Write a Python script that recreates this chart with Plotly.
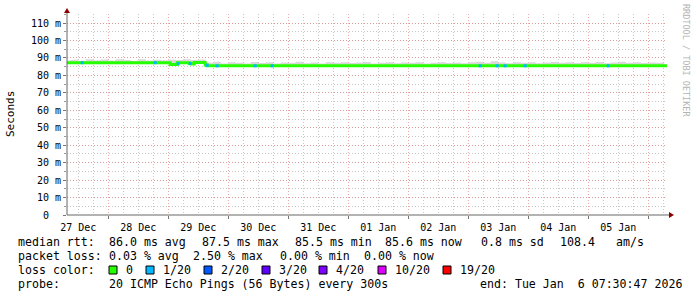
import plotly.graph_objects as go
import pandas as pd

# ---------------- data ----------------
x_start = "2025-12-27 07:30:47"
x_end = "2026-01-06 07:30:47"

# median rtt (ms) as step series: change times and values
med_times = ["2025-12-27 07:30", "2025-12-29 00:48", "2025-12-29 03:36", "2025-12-29 08:24",
             "2025-12-29 09:12", "2025-12-29 10:24", "2025-12-29 14:48", "2025-12-29 15:36",
             "2026-01-06 07:30"]
med_values = [87.3, 86.3, 87.3, 86.8, 86.5, 87.4, 86.0, 85.5, 85.5]

# smoke (upper edge of ping spread, ms) every 3 hours from 27 Dec 06:00
smoke_times = [t.strftime("%Y-%m-%d %H:%M")
               for t in pd.date_range("2025-12-27 06:00", "2026-01-06 06:00", freq="3h")]
smoke_values = [88.6, 89.0, 88.4, 89.2, 88.7, 89.1,
                88.5, 89.2, 88.8, 88.4, 89.3, 88.6, 89.0, 88.7,
                89.0, 88.9, 89.3, 88.8, 89.1, 87.3, 87.8, 86.9,
                87.6, 87.2, 86.9, 87.7, 87.1, 87.5, 86.8, 87.4,
                87.3, 87.8, 87.0, 87.4, 86.9, 87.6, 87.2, 87.5,
                87.1, 87.4, 87.7, 86.9, 87.3, 87.6, 87.0, 87.4,
                87.2, 87.5, 86.9, 87.3, 87.6, 87.1, 87.4, 87.0,
                87.5, 87.8, 87.3, 88.1, 87.4, 87.0, 87.6, 87.2,
                87.6, 87.0, 87.4, 87.7, 87.2, 87.5, 87.1, 87.6,
                87.3, 87.7, 87.0, 87.4, 87.8, 87.2, 87.5, 87.1,
                87.4, 87.2, 87.2]

# samples with 1/20 packet loss
loss1_times = ["2025-12-27 13:36", "2025-12-28 18:48", "2025-12-29 04:00", "2025-12-29 08:48",
               "2025-12-29 15:36", "2025-12-29 19:36", "2025-12-30 10:48", "2025-12-30 17:36",
               "2026-01-03 04:48", "2026-01-03 11:36", "2026-01-03 14:48", "2026-01-03 22:48",
               "2026-01-05 08:00"]
loss1_values = [87.3, 87.3, 86.8, 86.8, 85.8, 85.5, 85.5, 85.5,
                85.5, 85.5, 85.5, 85.5, 85.5]

y_tickvals = [0, 10, 20, 30, 40, 50, 60, 70, 80, 90, 100, 110]
y_ticktext = ["0\u00a0\u00a0", "10 m", "20 m", "30 m", "40 m", "50 m", "60 m", "70 m",
              "80 m", "90 m", "100 m", "110 m"]

loss_labels = ["0", "1/20", "2/20", "3/20", "4/20", "10/20", "19/20"]
loss_colors = ["#26ff00", "#00b8ff", "#0059ff", "#5e00ff", "#7e00ff", "#dd00ff", "#ff0000"]

# ---------------- layout geometry (pixels) ----------------
FW, FH = 697, 297
L, T, W, H = 67, 14, 600, 201
R = FW - L - W
B = FH - T - H
Y_MAX = 115.2


def px(x):
    return (x - L) / W


def py(y):
    return (T + H - y) / H


MONO = "DejaVu Sans Mono"

fig = go.Figure()

# smoke: lower edge (median) then upper filled to it
fig.add_trace(go.Scatter(x=med_times, y=med_values, mode="lines", line=dict(width=0, shape="hv"),
                         hoverinfo="skip", showlegend=False))
fig.add_trace(go.Scatter(x=smoke_times, y=smoke_values, mode="lines",
                         line=dict(width=0, shape="hv"), fill="tonexty",
                         fillcolor="#d8d8d8", hoverinfo="skip", showlegend=False))
# median line
fig.add_trace(go.Scatter(x=med_times, y=med_values, mode="lines",
                         line=dict(color=loss_colors[0], width=3, shape="hv"), showlegend=False))
# loss 1/20 marks
fig.add_trace(go.Scatter(x=loss1_times, y=loss1_values, mode="markers",
                         marker=dict(symbol="square", size=3, color=loss_colors[1],
                                     line=dict(width=0)), showlegend=False))

grid_major = "rgba(230,140,140,0.75)"
grid_minor = "rgba(160,160,160,0.6)"

fig.update_layout(
    width=FW, height=FH,
    margin=dict(l=L, r=R, t=T, b=B),
    paper_bgcolor="white", plot_bgcolor="white",
    font=dict(family=MONO, size=10, color="black"),
    xaxis=dict(
        type="date", range=[x_start, x_end],
        tick0="2025-12-27", dtick=86400000, tickformat="%d %b", ticklabelmode="period",
        showgrid=True, gridcolor=grid_major, griddash="1px,2px", gridwidth=1,
        ticks="outside", ticklen=3, tickcolor="#777",
        minor=dict(dtick=6 * 3600000, tick0="2025-12-27", showgrid=True, gridcolor=grid_minor,
                   griddash="1px,2px", ticks="", ticklen=2),
        showline=False, zeroline=False, fixedrange=True,
        tickfont=dict(family=MONO, size=10),
    ),
    yaxis=dict(
        range=[0, Y_MAX], tickvals=y_tickvals, ticktext=y_ticktext,
        showgrid=True, gridcolor=grid_major, griddash="1px,2px", gridwidth=1,
        ticks="outside", ticklen=3, tickcolor="#777",
        minor=dict(dtick=5, tick0=0, showgrid=True, gridcolor=grid_minor, griddash="1px,2px",
                   ticks="outside", ticklen=2, tickcolor="#999"),
        showline=False, zeroline=False, fixedrange=True,
        tickfont=dict(family=MONO, size=10),
    ),
)

shapes = []
axis_col = "#666666"
arrow_col = "#8b0000"
# y axis line + arrow
shapes.append(dict(type="line", xref="paper", yref="paper", x0=0, x1=0, y0=0, y1=py(12),
                   line=dict(color=axis_col, width=1)))
shapes.append(dict(type="path", xref="paper", yref="paper",
                   path=f"M {px(64)} {py(13)} L {px(70)} {py(13)} L {px(67)} {py(8)} Z",
                   fillcolor=arrow_col, line=dict(width=0)))
# x axis line + arrow
shapes.append(dict(type="line", xref="paper", yref="paper", x0=0, x1=px(670), y0=0, y1=0,
                   line=dict(color=axis_col, width=1)))
shapes.append(dict(type="path", xref="paper", yref="paper",
                   path=f"M {px(669)} {py(212)} L {px(669)} {py(218)} L {px(674)} {py(215)} Z",
                   fillcolor=arrow_col, line=dict(width=0)))

annotations = []


def txt(x, y, s, size=11.6, color="black", anchor="left", angle=0):
    annotations.append(dict(text=s, x=px(x), y=py(y), xref="paper", yref="paper",
                            xanchor=anchor, yanchor="middle", showarrow=False,
                            textangle=angle, font=dict(family=MONO, size=size, color=color)))


# y axis title and watermark
txt(11, 114, "Seconds", size=11, anchor="center", angle=-90)
txt(686, 60, "RRDTOOL / TOBI OETIKER", size=8.5, color="#b4b4b4", anchor="center", angle=90)

# legend rows
row1 = [(16, "median rtt:"), (107, "86.0 ms avg"), (200, "87.5 ms max"), (293, "85.5 ms min"),
        (383, "85.6 ms now"), (479, "0.8 ms sd"), (558, "108.4"), (614, "am/s")]
row2 = [(16, "packet loss:"), (107, "0.03 % avg"), (191, "2.50 % max"), (278, "0.00 % min"),
        (362, "0.00 % now")]
row4 = [(16, "probe:"), (107, "20 ICMP Echo Pings (56 Bytes) every 300s"),
        (478, "end: Tue Jan  6 07:30:47 2026".replace("  ", "\u00a0\u00a0"))]
for x, s in row1:
    txt(x, 242, s)
for x, s in row2:
    txt(x, 256, s)
for x, s in row4:
    txt(x, 284, s)
txt(16, 270, "loss color:")
sq_left = [109, 146, 204, 262, 319, 378, 443]
for xl, lab, col in zip(sq_left, loss_labels, loss_colors):
    shapes.append(dict(type="rect", xref="paper", yref="paper",
                       x0=px(xl), x1=px(xl + 8), y0=py(274), y1=py(266),
                       fillcolor=col, line=dict(color="black", width=1)))
    txt(xl + 15, 270, lab)

fig.update_layout(shapes=shapes, annotations=annotations)
fig.write_html("out.html")
